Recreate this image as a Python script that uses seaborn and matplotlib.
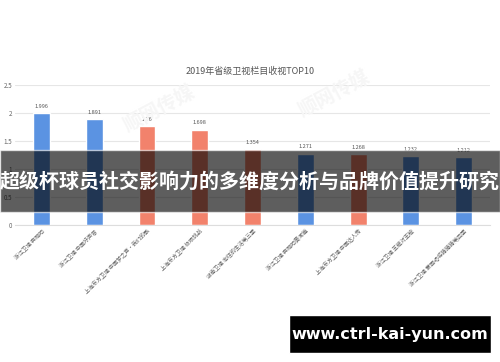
import matplotlib
matplotlib.use("Agg")
import matplotlib.pyplot as plt
import seaborn as sns
import pandas as pd
from matplotlib.patches import Rectangle

sns.set_theme(style="white")
plt.rcParams['font.family'] = ['Noto Sans CJK SC', 'DejaVu Sans']

title = "2019年省级卫视栏目收视TOP10"
categories = ["浙江卫视 奔跑吧", "浙江卫视 中国好声音", "上海东方卫视 中国梦之声·我们的歌",
              "上海东方卫视 极限挑战", "湖南卫视 向往的生活第三季", "浙江卫视 奔跑吧黄河篇",
              "上海东方卫视 中国达人秀", "浙江卫视 王牌对王牌", "浙江卫视 蒙面唱将猜猜猜第四季"]
values = [1.996, 1.891, 1.76, 1.698, 1.354, 1.271, 1.268, 1.232, 1.212]
value_labels = ["1.996", "1.891", "1.76", "1.698", "1.354", "1.271", "1.268", "1.232", "1.212"]
groups = ["blue", "blue", "red", "red", "red", "blue", "red", "blue", "blue"]
yticks = [0, 0.5, 1, 1.5, 2, 2.5]
ytick_labels = ["0", "0.5", "1", "1.5", "2", "2.5"]
overlay_title = "超级杯球员社交影响力的多维度分析与品牌价值提升研究"
site = "www.ctrl-kai-yun.com"

palette = {"blue": "#5b93e2", "red": "#f2826c"}
df = pd.DataFrame({"cat": categories, "val": values, "grp": groups})

fig = plt.figure(figsize=(5, 3.62), dpi=100)
ax = fig.add_axes([0.03, 0.3785, 0.95, 0.3867])
sns.barplot(data=df, x="cat", y="val", hue="grp", palette=palette, dodge=False,
            width=0.32, legend=False, ax=ax, saturation=1)
ax.set_xlim(-0.5, len(categories) - 0.5)
ax.set_ylim(0, 2.5)
ax.set_yticks(yticks)
ax.set_yticklabels(ytick_labels, fontsize=4.5, color="#666666")
ax.tick_params(axis="y", length=0, pad=2)
ax.tick_params(axis="x", length=0, pad=2)
ax.set_xticks(range(len(categories)))
ax.set_xticklabels(categories, rotation=45, ha="right", rotation_mode="anchor",
                   fontsize=4, color="#666666")
ax.set_xlabel("")
ax.set_ylabel("")
for s in ["top", "right", "left"]:
    ax.spines[s].set_visible(False)
ax.spines["bottom"].set_color("#dddddd")
ax.spines["bottom"].set_linewidth(0.8)
ax.yaxis.grid(True, color="#e6e6e6", linewidth=0.8)
ax.set_axisbelow(True)
for i, (v, lab) in enumerate(zip(values, value_labels)):
    ax.text(i, v + 0.08, lab, ha="center", va="bottom", fontsize=4, color="#555555")

fig.text(0.5, 0.803, title, ha="center", va="center", fontsize=6.5, color="#555555")

# faint watermarks
for (x, y) in [(0.32, 0.7), (0.67, 0.74)]:
    fig.text(x, y, "顺网传媒", ha="center", va="center", fontsize=14, color="#f6f6f6",
             rotation=28, fontweight="bold", zorder=0)

# dark overlay band with title
fig.patches.append(Rectangle((0, 1 - 212 / 362), 1, 62 / 362, transform=fig.transFigure,
                             facecolor="black", alpha=0.63, zorder=5))
fig.text(0.5, 1 - 181 / 362, overlay_title, ha="center", va="center", fontsize=14.4,
         color="white", fontweight="bold", zorder=6)

# site box
fig.patches.append(Rectangle((289 / 500, 1 - 353 / 362), 202 / 500, 38 / 362,
                             transform=fig.transFigure, facecolor="black", zorder=5))
fig.text(390 / 500, 1 - 334 / 362, site, ha="center", va="center", fontsize=11.5,
         color="white", fontweight="bold", zorder=6, family=["DejaVu Sans"])

fig.savefig("out.png", dpi=100)
